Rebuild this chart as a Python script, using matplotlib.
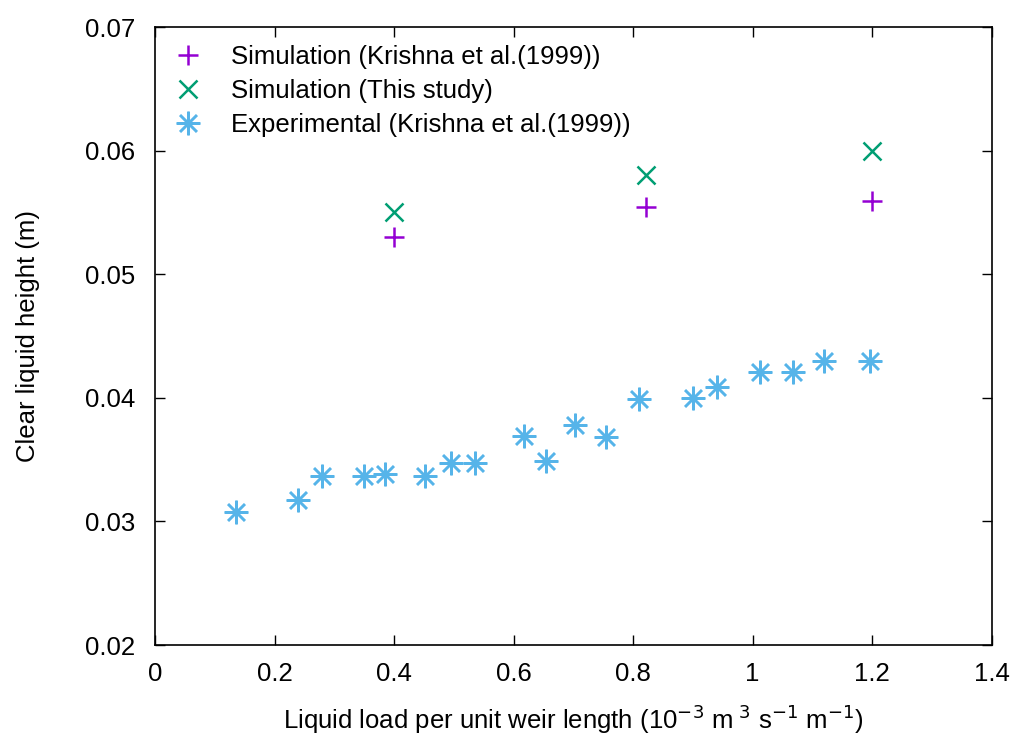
import matplotlib
matplotlib.use("Agg")
import matplotlib.pyplot as plt

plt.rcParams['font.family'] = ['Liberation Sans', 'DejaVu Sans']

sim_krishna_x = [0.40, 0.822, 1.20]
sim_krishna_y = [0.0530, 0.0554, 0.0559]
sim_this_x = [0.40, 0.822, 1.20]
sim_this_y = [0.0550, 0.0580, 0.0600]
exp_x = [0.136, 0.240, 0.280, 0.350, 0.385, 0.452, 0.496, 0.536, 0.618, 0.655,
         0.702, 0.754, 0.809, 0.901, 0.940, 1.012, 1.068, 1.119, 1.197]
exp_y = [0.0308, 0.0317, 0.0337, 0.0337, 0.0338, 0.0337, 0.0347, 0.0347, 0.0369, 0.0349,
         0.0378, 0.0368, 0.0399, 0.0400, 0.0409, 0.0421, 0.0421, 0.0430, 0.0430]

xticks = [0, 0.2, 0.4, 0.6, 0.8, 1.0, 1.2, 1.4]
xticklabels = ['0', '0.2', '0.4', '0.6', '0.8', '1', '1.2', '1.4']
yticks = [0.02, 0.03, 0.04, 0.05, 0.06, 0.07]
yticklabels = ['0.02', '0.03', '0.04', '0.05', '0.06', '0.07']

fig = plt.figure(figsize=(10.14, 7.38), dpi=100)
ax = fig.add_axes([0.1529, 0.126, 0.978 - 0.1529, 0.9634 - 0.126])

ax.plot(sim_krishna_x, sim_krishna_y, linestyle='none', marker='+', markersize=15,
        markeredgewidth=1.8, color='#9400D3', label='Simulation (Krishna et al.(1999))')
ax.plot(sim_this_x, sim_this_y, linestyle='none', marker='x', markersize=13,
        markeredgewidth=1.8, color='#009E73', label='Simulation (This study)')
ax.plot(exp_x, exp_y, linestyle='none', marker=(8, 2, 0), markersize=17,
        markeredgewidth=1.8, color='#56B4E9', label='Experimental (Krishna et al.(1999))')

ax.set_xlim(0, 1.4)
ax.set_ylim(0.02, 0.07)
ax.set_xticks(xticks)
ax.set_xticklabels(xticklabels)
ax.set_yticks(yticks)
ax.set_yticklabels(yticklabels)
ax.tick_params(axis='both', direction='in', top=True, right=True, length=7, width=1,
               labelsize=18.5)
ax.tick_params(axis='x', pad=12)
ax.tick_params(axis='y', pad=14)
for s in ax.spines.values():
    s.set_linewidth(1.2)

ax.set_xlabel(r'Liquid load per unit weir length (10$^{-3}$ m$^{\ 3}$ s$^{-1}$ m$^{-1}$)',
              fontsize=18.5, labelpad=12)
ax.set_ylabel('Clear liquid height (m)', fontsize=18.5, labelpad=33)

leg = ax.legend(loc='upper left', frameon=False, fontsize=18.5, handlelength=1.2,
                handletextpad=1.05, borderaxespad=0.3, labelspacing=0.38,
                bbox_to_anchor=(0.0, 1.0))

fig.savefig('out.png', dpi=100)
